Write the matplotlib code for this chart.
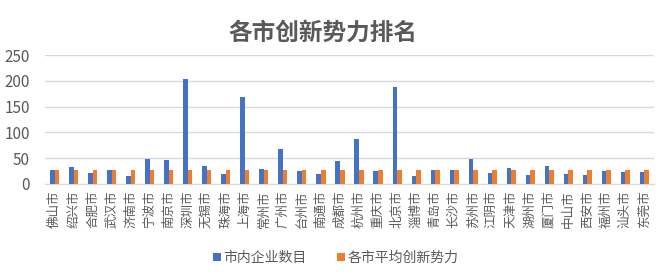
import matplotlib
matplotlib.use("Agg")
import matplotlib.pyplot as plt
import numpy as np

plt.rcParams['font.family'] = ['Noto Sans CJK SC', 'DejaVu Sans']

cities = ["佛山市", "绍兴市", "合肥市", "武汉市", "济南市", "宁波市", "南京市", "深圳市",
          "无锡市", "珠海市", "上海市", "常州市", "广州市", "台州市", "南通市", "成都市",
          "杭州市", "重庆市", "北京市", "淄博市", "青岛市", "长沙市", "苏州市", "江阴市",
          "天津市", "湖州市", "厦门市", "中山市", "西安市", "福州市", "汕头市", "东莞市"]
companies = [27, 32, 22, 27, 15, 49, 47, 203,
             34, 19, 169, 30, 67, 25, 19, 45,
             88, 25, 188, 16, 27, 28, 49, 21,
             31, 17, 34, 19, 18, 25, 23, 23]
avg_power = [28, 28, 28, 28, 28, 28, 28, 28,
             28, 28, 28, 28, 28, 28, 28, 28,
             28, 28, 28, 28, 28, 28, 28, 28,
             28, 28, 28, 28, 28, 28, 28, 28]

fig = plt.figure(figsize=(6.72, 2.79), dpi=100)
ax = fig.add_axes([45/672, 1-184/279, (654-45)/672, (184-55)/279])

x = np.arange(len(cities))
w = 0.24
ax.bar(x - w/2, companies, w, color='#4472C4', label='市内企业数目', zorder=3)
ax.bar(x + w/2, avg_power, w, color='#ED7D31', label='各市平均创新势力', zorder=3)

ax.set_xlim(-0.5, len(cities) - 0.5)
ax.set_ylim(0, 250)
ax.set_yticks(range(0, 251, 50))
ax.yaxis.grid(True, color='#D9D9D9', linewidth=1, zorder=0)
for s in ['top', 'right', 'left']:
    ax.spines[s].set_visible(False)
ax.spines['bottom'].set_color('#D9D9D9')
ax.tick_params(axis='y', length=0, labelsize=11, colors='#595959', pad=11)
ax.tick_params(axis='x', length=0, labelsize=9, colors='#595959', pad=5)
ax.set_xticks(x)
ax.set_xticklabels(cities, rotation=90)

fig.text(323/672, 1-33/279, '各市创新势力排名', ha='center', va='center',
         fontsize=17, fontweight='bold', color='#595959')

fig.legend(loc='center', bbox_to_anchor=(0.5, 1-258/279), ncol=2, frameon=False,
           fontsize=10, handlelength=0.55, handleheight=0.55, handletextpad=0.2,
           columnspacing=2.2, labelcolor='#595959')

fig.savefig('out.png', dpi=100)
